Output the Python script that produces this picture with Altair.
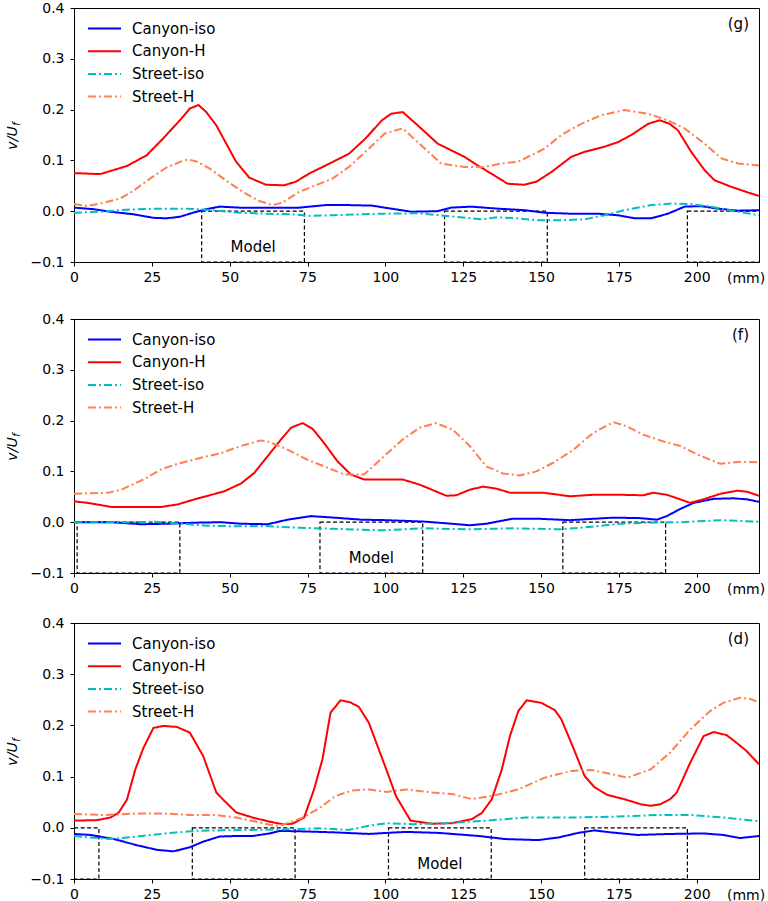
import altair as alt
import pandas as pd

FONT = "DejaVu Sans"

SERIES = ["Canyon-iso", "Canyon-H", "Street-iso", "Street-H"]
COLORS = ["#0000ff", "#ff0000", "#00bfbf", "#ff7f50"]
DASHES = [[1, 0], [1, 0], [8, 3, 2, 3], [8, 3, 2, 3]]

X_TICKS = [0, 25, 50, 75, 100, 125, 150, 175, 200]
Y_TICKS = [-0.1, 0.0, 0.1, 0.2, 0.3, 0.4]

# ---------------- panel (g) ----------------
g_ciso_x = [0, 6.3, 11.6, 19, 25.5, 29.7, 34, 38.2, 42.5, 46.8, 53.1, 61.7, 72.3, 80.8, 88.3, 95.7,
            99.8, 108.3, 116.8, 121.1, 127.5, 136.1, 144.7, 151.1, 159.7, 168.3, 174.7, 180.1, 185.4,
            190.7, 196.1, 201.4, 206.8, 213.2, 220]
g_ciso_y = [0.007, 0.004, -0.001, -0.006, -0.013, -0.014, -0.011, -0.003, 0.004, 0.009, 0.007, 0.007,
            0.007, 0.012, 0.012, 0.011, 0.007, -0.001, 0.000, 0.007, 0.009, 0.005, 0.002, -0.003,
            -0.005, -0.005, -0.008, -0.014, -0.014, -0.005, 0.009, 0.010, 0.005, 0.001, 0.002]
g_ch_x = [0, 8.4, 17, 23.3, 28.6, 34, 37.2, 40, 42.5, 45.7, 48.9, 52, 56.3, 61.7, 67.5, 71.2, 75.5,
          80.8, 88.3, 93.6, 98.9, 101.9, 105.6, 110.4, 116.8, 125.4, 129.7, 134, 139.3, 144.7, 148.5,
          153.3, 159.7, 164, 170.4, 174.7, 179, 184.4, 188.1, 191.3, 194, 198.2, 202.5, 205.7, 211.1,
          216.4, 220]
g_ch_y = [0.075, 0.073, 0.089, 0.110, 0.143, 0.179, 0.202, 0.209, 0.195, 0.169, 0.133, 0.098, 0.066,
          0.052, 0.051, 0.058, 0.074, 0.090, 0.113, 0.143, 0.179, 0.192, 0.195, 0.169, 0.133, 0.107,
          0.090, 0.074, 0.054, 0.052, 0.058, 0.077, 0.107, 0.117, 0.127, 0.136, 0.150, 0.172, 0.179,
          0.172, 0.159, 0.117, 0.081, 0.061, 0.048, 0.037, 0.030]
g_siso_x = [0, 8.4, 17, 27.6, 36.1, 44.6, 53.1, 61.7, 70.2, 75.5, 83, 98.9, 110.4, 121.1, 130.7,
            136.1, 142.5, 148.9, 155.4, 163.9, 170.4, 176.8, 185.4, 191.8, 198.2, 204.6, 212.1, 220]
g_siso_y = [-0.003, -0.001, 0.003, 0.005, 0.005, 0.002, -0.003, -0.005, -0.006, -0.009, -0.008,
            -0.005, -0.004, -0.010, -0.016, -0.012, -0.014, -0.018, -0.018, -0.016, -0.008, 0.002,
            0.012, 0.015, 0.014, 0.009, 0.000, -0.008]
g_sh_x = [0, 4.2, 10.5, 14.8, 19, 24.4, 29.7, 34.5, 36.6, 39.3, 43.6, 48.9, 54.2, 59.5, 63.8, 67,
          72.3, 77.6, 83, 88.3, 93.6, 99.8, 105.6, 110.4, 117.9, 125.4, 131.8, 137.2, 142.5, 151.1,
          156.5, 162.9, 169.3, 176.8, 184.3, 190.7, 196.1, 202.5, 207.9, 213.2, 220]
g_sh_y = [0.014, 0.010, 0.018, 0.025, 0.040, 0.064, 0.086, 0.098, 0.102, 0.098, 0.084, 0.060, 0.038,
          0.020, 0.012, 0.017, 0.038, 0.051, 0.064, 0.087, 0.117, 0.153, 0.163, 0.136, 0.094, 0.087,
          0.087, 0.094, 0.097, 0.123, 0.150, 0.172, 0.189, 0.199, 0.192, 0.179, 0.163, 0.133, 0.104,
          0.094, 0.090]
g_box_lo = [41, 119, 197]
g_box_hi = [74, 152, 230]
g_model_x = 57.5

# ---------------- panel (f) ----------------
f_ciso_x = [0, 12, 21.6, 30.1, 38.7, 47.2, 53.6, 62.2, 68.6, 76.1, 83.5, 92.1, 100.3, 113.2, 127.1,
            132.4, 141, 148.5, 159.3, 173.2, 181.8, 187.2, 190.4, 194.7, 199, 205.4, 211.8, 216.2, 220]
f_ciso_y = [0.000, 0.000, -0.004, -0.003, -0.001, 0.000, -0.003, -0.004, 0.005, 0.012, 0.009, 0.005,
            0.004, 0.001, -0.006, -0.003, 0.007, 0.007, 0.004, 0.009, 0.008, 0.005, 0.012, 0.026,
            0.038, 0.046, 0.047, 0.045, 0.040]
f_ch_x = [0, 4.5, 12, 19.4, 28, 33.3, 38.7, 43, 48.3, 53.6, 57.9, 62.2, 66.5, 69.7, 73.4, 76.6, 80.3,
          84.6, 88.9, 93.2, 100.3, 105.6, 111, 119.6, 122.8, 127.1, 131.4, 135.7, 140, 150.8, 159.3,
          166.8, 175.4, 182.9, 186.1, 190.4, 194.7, 197.9, 202.2, 207.6, 213, 216.2, 220]
f_ch_y = [0.041, 0.038, 0.030, 0.030, 0.030, 0.035, 0.045, 0.052, 0.061, 0.076, 0.097, 0.130, 0.163,
          0.186, 0.195, 0.184, 0.156, 0.120, 0.094, 0.084, 0.084, 0.084, 0.074, 0.052, 0.053, 0.064,
          0.070, 0.066, 0.058, 0.058, 0.051, 0.054, 0.054, 0.053, 0.058, 0.054, 0.045, 0.038, 0.045,
          0.056, 0.062, 0.060, 0.052]
f_siso_x = [0, 19.4, 25.9, 34.4, 43, 51.5, 62.2, 72.9, 83.5, 99.6, 112.1, 127.1, 141, 156, 164.6,
            175.4, 183.9, 194.7, 207.6, 220]
f_siso_y = [0.000, 0.000, 0.001, -0.003, -0.007, -0.008, -0.008, -0.011, -0.013, -0.016, -0.012,
            -0.014, -0.012, -0.014, -0.010, -0.003, -0.001, 0.000, 0.004, 0.001]
f_sh_x = [0, 10.9, 15.2, 22.6, 28, 33.3, 40.8, 47.2, 53.6, 60, 62.2, 67.5, 75, 80.3, 86.8, 93.2,
          99.6, 105.6, 111, 116.3, 121.7, 127.1, 132.4, 137.8, 143.1, 148.5, 153.9, 160.3, 166.8,
          173.2, 177.5, 182.9, 189.3, 194.7, 201.1, 207.6, 214, 220]
f_sh_y = [0.056, 0.058, 0.064, 0.085, 0.104, 0.115, 0.127, 0.136, 0.150, 0.161, 0.159, 0.146, 0.123,
          0.110, 0.094, 0.094, 0.130, 0.163, 0.186, 0.195, 0.182, 0.150, 0.110, 0.096, 0.092, 0.100,
          0.117, 0.142, 0.176, 0.197, 0.189, 0.172, 0.159, 0.150, 0.131, 0.115, 0.119, 0.118]
f_box_lo = [1, 79, 157]
f_box_hi = [34, 112, 190]
f_model_x = 95.5

# ---------------- panel (d) ----------------
d_ciso_x = [0, 5.3, 12.8, 20.2, 26.6, 31.9, 37.2, 41.5, 46.8, 52.1, 57.4, 62.8, 66, 73.4, 84, 94.7,
            100.3, 106.7, 117.3, 130, 138.5, 149.1, 155.5, 161.9, 167.2, 172.5, 181, 191.5, 202.2,
            208.5, 213.9, 220]
d_ciso_y = [-0.012, -0.014, -0.022, -0.034, -0.043, -0.046, -0.038, -0.027, -0.017, -0.016, -0.016,
            -0.011, -0.006, -0.007, -0.009, -0.012, -0.010, -0.008, -0.010, -0.016, -0.022, -0.024,
            -0.019, -0.010, -0.005, -0.009, -0.014, -0.012, -0.011, -0.014, -0.020, -0.016]
d_ch_x = [0, 7.4, 11.7, 14.4, 17, 19.7, 22.3, 25.5, 28.7, 33, 37.2, 41.5, 45.7, 47.9, 52.1, 57.4,
          62.8, 67, 70.2, 73.9, 77.1, 79.8, 82.4, 85.6, 88.8, 91.5, 94.7, 100.3, 103.4, 108.1, 115,
          121.4, 127.8, 131, 134.2, 137.4, 140, 142.7, 145.4, 150.1, 154.4, 156.5, 159.7, 164, 167.2,
          171.4, 176.7, 182, 185.2, 188.3, 191.5, 193.6, 197.9, 202.2, 205.4, 209.6, 212.8, 216, 220]
d_ch_y = [0.014, 0.015, 0.020, 0.030, 0.055, 0.114, 0.156, 0.195, 0.199, 0.197, 0.186, 0.140, 0.069,
          0.055, 0.030, 0.020, 0.012, 0.007, 0.008, 0.020, 0.075, 0.134, 0.225, 0.249, 0.245, 0.236,
          0.205, 0.114, 0.062, 0.014, 0.008, 0.009, 0.017, 0.029, 0.056, 0.114, 0.179, 0.228, 0.249,
          0.244, 0.230, 0.212, 0.166, 0.101, 0.079, 0.064, 0.056, 0.046, 0.043, 0.046, 0.056, 0.069,
          0.127, 0.179, 0.187, 0.181, 0.166, 0.150, 0.124]
d_siso_x = [0, 5.3, 11.7, 20.2, 31, 39.4, 47.9, 58.5, 69.1, 78.7, 88.5, 94.7, 100.3, 108.8, 119.4,
            132.2, 145, 159.7, 174.6, 187.3, 197.9, 208.5, 220]
d_siso_y = [-0.016, -0.019, -0.022, -0.017, -0.010, -0.006, -0.005, -0.004, -0.003, -0.001, -0.004,
            0.004, 0.009, 0.007, 0.009, 0.014, 0.020, 0.020, 0.022, 0.025, 0.025, 0.020, 0.013]
d_sh_x = [0, 9.6, 20.2, 28.7, 37.2, 45.7, 52.1, 58.5, 62.8, 66, 69.1, 73.4, 78.7, 84, 89.4, 94.7,
          100.3, 106.7, 115, 121.4, 127.8, 134.2, 142.7, 151.2, 159.7, 166.1, 172.5, 177.8, 185.2,
          191.5, 197.9, 204.3, 208.5, 213.9, 217.1, 220]
d_sh_y = [0.027, 0.025, 0.028, 0.028, 0.025, 0.025, 0.020, 0.012, 0.006, 0.004, 0.010, 0.020, 0.038,
          0.062, 0.073, 0.075, 0.070, 0.075, 0.069, 0.066, 0.056, 0.062, 0.075, 0.098, 0.111, 0.113,
          0.105, 0.098, 0.114, 0.147, 0.192, 0.228, 0.244, 0.254, 0.252, 0.245]
d_box_lo = [-25, 38, 101, 164]
d_box_hi = [8, 71, 134, 197]
d_model_x = 117.5

W = 685
LEG_TOP = 20.5
LEG_STEP = 22.7


def txt(size=15, **kw):
    return dict(font=FONT, fontSize=size, color="black", baseline="middle", **kw)


def panel(tag, curves, box_lo, box_hi, model_x, h):
    rows = []
    for name, (xs, ys) in zip(SERIES, curves):
        for a, b in zip(xs, ys):
            rows.append({"series": name, "x": a, "v": b})
    df = pd.DataFrame(rows)
    one = pd.DataFrame({"k": [0]})

    xscale = alt.Scale(domain=[0, 220], nice=False, zero=False)
    yscale = alt.Scale(domain=[-0.1, 0.4], nice=False)
    xaxis = alt.Axis(values=X_TICKS, title=None, labelPadding=4, labelFlush=False, labelOverlap=False)
    yaxis = alt.Axis(values=Y_TICKS, title=None, format=".1f", labelPadding=6, labelFlush=False,
                     labelOverlap=False)

    boxes = alt.Chart(pd.DataFrame({"lo": box_lo, "hi": box_hi})).mark_rect(
        fillOpacity=0, stroke="black", strokeDash=[4, 2.5], strokeWidth=1.2, clip=True
    ).encode(
        x=alt.X("lo:Q", scale=xscale, axis=xaxis),
        x2="hi:Q",
        y=alt.datum(0.0, scale=yscale, axis=yaxis),
        y2=alt.datum(-0.1),
    )

    lines = alt.Chart(df).mark_line(strokeWidth=2, clip=True).encode(
        x=alt.X("x:Q", scale=xscale, axis=xaxis),
        y=alt.Y("v:Q", scale=yscale, axis=yaxis),
        color=alt.Color("series:N", scale=alt.Scale(domain=SERIES, range=COLORS), legend=None),
        strokeDash=alt.StrokeDash("series:N", scale=alt.Scale(domain=SERIES, range=DASHES), legend=None),
        detail="series:N",
    )

    model = alt.Chart(one).mark_text(**txt()).encode(
        x=alt.datum(model_x), y=alt.datum(-0.07), text=alt.value("Model")
    )

    layers = [boxes, lines, model]

    # legend drawn in the upper-left corner of the plot
    for i, (name, col, dash) in enumerate(zip(SERIES, COLORS, DASHES)):
        yy = LEG_TOP + i * LEG_STEP
        lab = pd.DataFrame({"label": [name]})
        layers.append(alt.Chart(lab).mark_rule(color=col, strokeDash=dash, strokeWidth=2).encode(
            x=alt.value(14), x2=alt.value(47), y=alt.value(yy)))
        layers.append(alt.Chart(lab).mark_text(**txt(align="left")).encode(
            x=alt.value(58), y=alt.value(yy), text="label:N"))

    # panel tag, unit label and the y-axis title v/U_f
    layers.append(alt.Chart(one).mark_text(**txt(align="right")).encode(
        x=alt.value(W - 10), y=alt.value(16), text=alt.value(tag)))
    layers.append(alt.Chart(one).mark_text(**txt(size=14, align="left")).encode(
        x=alt.value(W - 32), y=alt.value(h + 17), text=alt.value("(mm)")))
    layers.append(alt.Chart(one).mark_text(angle=270, align="center", baseline="middle", font=FONT,
                                           fontSize=14, fontStyle="italic", color="black").encode(
        x=alt.value(-61), y=alt.value(h / 2 + 3), text=alt.value("v/U")))
    layers.append(alt.Chart(one).mark_text(angle=270, align="center", baseline="middle", font=FONT,
                                           fontSize=10, fontStyle="italic", color="black").encode(
        x=alt.value(-57.5), y=alt.value(h / 2 - 11), text=alt.value("f")))

    return alt.layer(*layers).properties(width=W, height=h)


pg = panel("(g)", [(g_ciso_x, g_ciso_y), (g_ch_x, g_ch_y), (g_siso_x, g_siso_y), (g_sh_x, g_sh_y)],
           g_box_lo, g_box_hi, g_model_x, 254)
pf = panel("(f)", [(f_ciso_x, f_ciso_y), (f_ch_x, f_ch_y), (f_siso_x, f_siso_y), (f_sh_x, f_sh_y)],
           f_box_lo, f_box_hi, f_model_x, 254)
pd_ = panel("(d)", [(d_ciso_x, d_ciso_y), (d_ch_x, d_ch_y), (d_siso_x, d_siso_y), (d_sh_x, d_sh_y)],
            d_box_lo, d_box_hi, d_model_x, 256)

chart = alt.vconcat(alt.vconcat(pg, pf, spacing=24), pd_, spacing=17).properties(
    padding={"left": 5, "right": 2, "top": 0, "bottom": 0},
    background="white",
).configure_axis(
    labelFont=FONT, labelFontSize=14, labelColor="black", tickColor="black",
    domainColor="black", tickSize=4, tickWidth=1, domainWidth=1, grid=False,
).configure_view(
    stroke="black", strokeWidth=1,
)

chart.save("out.html", embed_options={"renderer": "svg", "actions": False})
